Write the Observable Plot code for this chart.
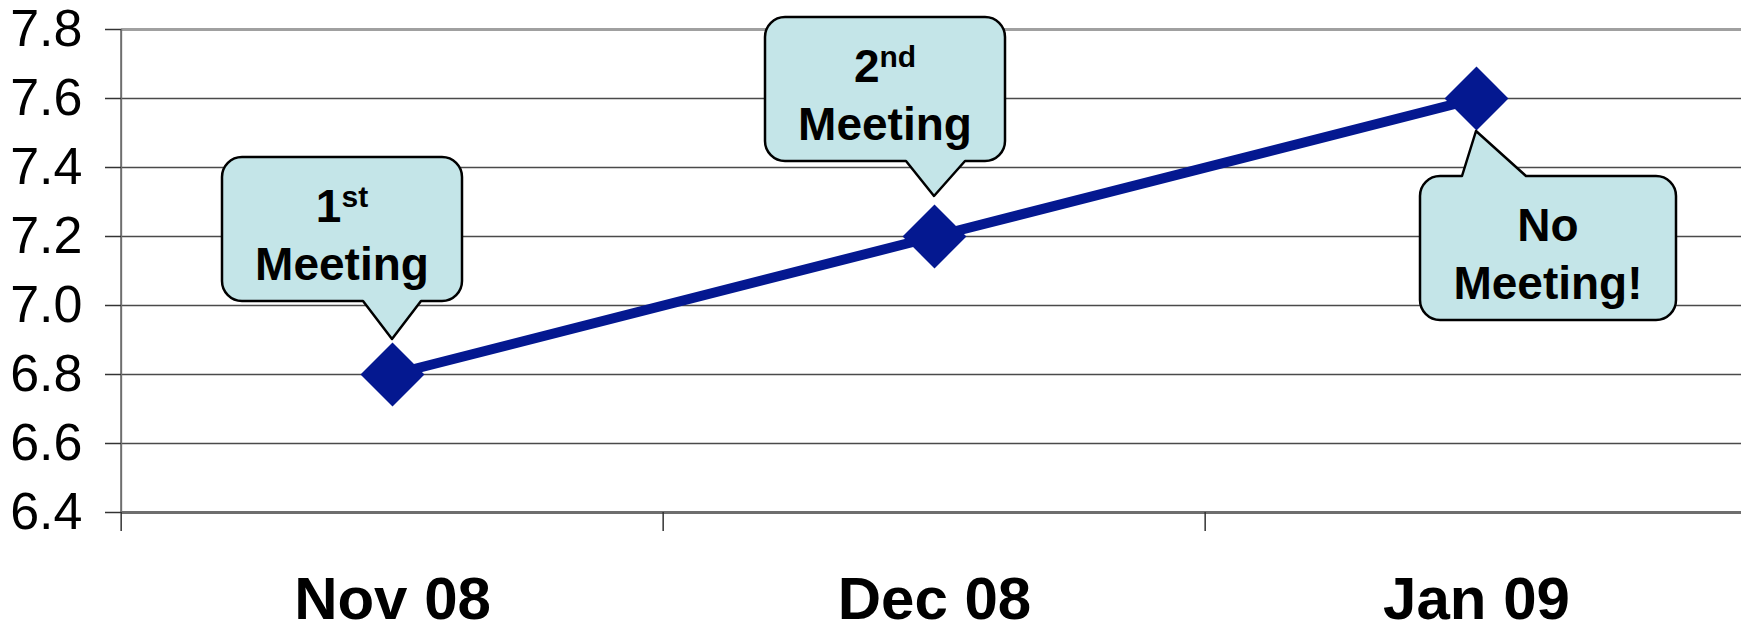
<!DOCTYPE html>
<html>
<head>
<meta charset="utf-8">
<script src="https://cdn.jsdelivr.net/npm/d3@7"></script>
<script src="https://cdn.jsdelivr.net/npm/@observablehq/plot@0.6"></script>
<style>
  html, body { margin: 0; padding: 0; background: #fff; }
  #chart { width: 1741px; height: 635px; overflow: hidden; }
  svg { display: block; }
</style>
</head>
<body>
<div id="chart"></div>
<script>
// ---- data ----
const months = ["Nov 08", "Dec 08", "Jan 09"];
const scores = [6.8, 7.2, 7.6];
const yTicks = [6.4, 6.6, 6.8, 7.0, 7.2, 7.4, 7.6, 7.8];
const calloutMain = ["1", "2", "No"];
const calloutSup = ["st", "nd", ""];
const calloutSecond = ["Meeting", "Meeting", "Meeting!"];

// ---- layout (pixel offsets of callouts relative to their data point) ----
const calloutLayout = [
  { left: -170, right: 70, top: -217, bottom: -73, side: "bottom", b0: -29, b1: 29, tx: 0, ty: -35 },
  { left: -169, right: 71, top: -219, bottom: -75, side: "bottom", b0: -28, b1: 31, tx: 0, ty: -40 },
  { left: -56, right: 200, top: 78, bottom: 222, side: "top", b0: -14, b1: 50, tx: 0, ty: 33 }
];

const W = 1741, H = 635;
const xRange = [120, 1748];
const bw = (xRange[1] - xRange[0]) / months.length;
const font = "'Liberation Sans', Arial, Helvetica, sans-serif";
const navy = "#041890";

const rows = months.map((m, i) => ({ month: m, score: scores[i] }));
const innerTicks = yTicks.slice(1, -1);

const svg = Plot.plot({
  width: W,
  height: H,
  marginLeft: 121,
  marginRight: 0,
  marginTop: 29,
  marginBottom: 123,
  style: { fontFamily: font, background: "#fff", color: "#000", overflow: "visible" },
  x: { type: "band", domain: months, range: xRange, padding: 0, label: null },
  y: { domain: [yTicks[0], yTicks[yTicks.length - 1]], label: null },
  marks: [
    Plot.ruleY(innerTicks, { stroke: "#4a4a4a", strokeWidth: 1.5 }),
    Plot.ruleY([yTicks[yTicks.length - 1]], { stroke: "#a0a0a0", strokeWidth: 3 }),
    Plot.ruleY([yTicks[0]], { stroke: "#6e6e6e", strokeWidth: 3 }),
    Plot.ruleX([months[0]], { x: d => d, dx: -bw / 2, stroke: "#6e6e6e", strokeWidth: 2 }),
    Plot.axisY(yTicks, {
      tickSize: 16, tickPadding: 23, fontSize: 52, tickFormat: d3.format(".1f"),
      stroke: "#333", strokeWidth: 1.5, fill: "#000", label: null
    }),
    Plot.axisX({ tickSize: 19, dx: -bw / 2, tickFormat: () => "", stroke: "#333", strokeWidth: 1.5, label: null }),
    Plot.axisX({ tickSize: 0, tickPadding: 64, fontSize: 60, fontWeight: "bold", fill: "#000", label: null }),
    Plot.line(rows, { x: "month", y: "score", stroke: navy, strokeWidth: 10 }),
    Plot.dot(rows, { x: "month", y: "score", symbol: "diamond2", r: 28.8, fill: navy, stroke: "none" })
  ]
});

document.getElementById("chart").appendChild(svg);

// ---- callouts, positioned through Plot's own scales ----
const sx = svg.scale("x");
const sy = svg.scale("y");
const g = d3.select(svg).append("g").attr("font-family", font).attr("font-weight", "bold");

function calloutPath(x0, y0, x1, y1, r, side, b0, b1, tx, ty) {
  if (side === "bottom") {
    return `M${x0 + r},${y0} H${x1 - r} A${r},${r} 0 0 1 ${x1},${y0 + r} V${y1 - r} A${r},${r} 0 0 1 ${x1 - r},${y1}` +
      ` H${b1} L${tx},${ty} L${b0},${y1} H${x0 + r} A${r},${r} 0 0 1 ${x0},${y1 - r} V${y0 + r} A${r},${r} 0 0 1 ${x0 + r},${y0} Z`;
  }
  return `M${x0 + r},${y0} H${b0} L${tx},${ty} L${b1},${y0} H${x1 - r} A${r},${r} 0 0 1 ${x1},${y0 + r} V${y1 - r} A${r},${r} 0 0 1 ${x1 - r},${y1}` +
    ` H${x0 + r} A${r},${r} 0 0 1 ${x0},${y1 - r} V${y0 + r} A${r},${r} 0 0 1 ${x0 + r},${y0} Z`;
}

months.forEach((m, i) => {
  const px = sx.apply(m) + sx.bandwidth / 2;
  const py = sy.apply(scores[i]);
  const L = calloutLayout[i];
  const x0 = px + L.left, x1 = px + L.right, y0 = py + L.top, y1 = py + L.bottom;
  g.append("path")
    .attr("d", calloutPath(x0, y0, x1, y1, 20, L.side, px + L.b0, px + L.b1, px + L.tx, py + L.ty))
    .attr("fill", "#c4e5e8")
    .attr("stroke", "#000")
    .attr("stroke-width", 2.5)
    .attr("stroke-linejoin", "round");
  const cx = (x0 + x1) / 2;
  const t1 = g.append("text").attr("x", cx).attr("y", y0 + 65)
    .attr("text-anchor", "middle").attr("font-size", 46).attr("fill", "#000");
  t1.append("tspan").text(calloutMain[i]);
  if (calloutSup[i]) {
    t1.append("tspan").attr("dy", -15).attr("font-size", 30).text(calloutSup[i]);
  }
  g.append("text").attr("x", cx).attr("y", y0 + 123)
    .attr("text-anchor", "middle").attr("font-size", 46).attr("fill", "#000")
    .text(calloutSecond[i]);
});
</script>
</body>
</html>
